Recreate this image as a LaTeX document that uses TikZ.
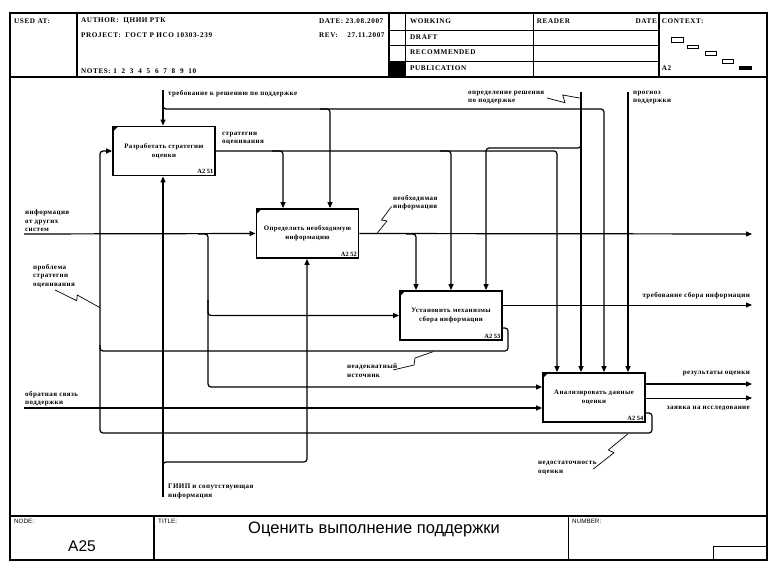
\documentclass[tikz,border=0pt]{standalone}
\usepackage{fontspec}
\setmainfont{Liberation Serif}
\newfontfamily\sansf{Liberation Sans}
\newfontfamily\lblf[LetterSpace=6]{Liberation Serif}
\newfontfamily\hdrf[LetterSpace=8]{Liberation Serif}
\usetikzlibrary{arrows.meta}
\begin{document}
\begin{tikzpicture}[x=1pt,y=-1pt,
  frame/.style={line width=1.3pt},
  thinline/.style={line width=0.8pt},
  conn/.style={line width=1.2pt, rounded corners=3pt},
  thinconn/.style={line width=0.8pt},
  arr/.style={-{Triangle[length=6pt,width=5pt]}},
  squig/.style={line width=0.7pt},
  lbl/.style={font=\lblf\fontsize{7}{8.4}\selectfont\bfseries, inner sep=0pt, align=left},
  lblr/.style={font=\lblf\fontsize{7}{8.4}\selectfont\bfseries, inner sep=0pt, align=right},
  hdr/.style={font=\hdrf\fontsize{7.2}{8}\selectfont\bfseries, inner sep=0pt, anchor=west},
  ftr/.style={font=\sansf\fontsize{6.3}{7}\selectfont, inner sep=0pt, anchor=west},
  boxst/.style={draw, line width=1.8pt, minimum width=102pt, minimum height=49pt, inner sep=0pt, align=center, font=\lblf\fontsize{6.8}{9.2}\selectfont\bfseries},
  numst/.style={font=\fontsize{6.4}{7}\selectfont\bfseries, inner sep=0pt, anchor=south east}
]
\useasboundingbox (0,0) rectangle (783,572);
% ---------- frame ----------
\draw[frame] (10,13) rectangle (767,560);
\draw[frame] (10,77) -- (767,77);
\draw[frame] (10,516) -- (767,516);
\draw[frame] (77,13) -- (77,77);
\draw[frame] (389,13) -- (389,77);
\draw[thinline] (405,13) -- (405,77);
\draw[thinline] (533,13) -- (533,77);
\draw[frame] (659,13) -- (659,77);
\draw[thinline] (389,30) -- (659,30);
\draw[thinline] (389,45.7) -- (659,45.7);
\draw[thinline] (389,61.7) -- (659,61.7);
\fill (389,61.7) rectangle (405,77);
\draw[thinline] (671,37) rectangle (683,42);
\draw[thinline] (687,45) rectangle (698,48.5);
\draw[thinline] (705,51) rectangle (716,55);
\draw[thinline] (722,59) rectangle (733,63);
\fill (739,66) rectangle (752,70);
\draw[frame] (154,516) -- (154,560);
\draw[frame] (568.7,516) -- (568.7,560);
\draw[thinline] (713.7,560) |- (767,546.7);
% header texts
\node[hdr] (usedat) at (14,20.7) {USED AT:};
\node[hdr] (author) at (81,20.7) {AUTHOR:\ \ ЦНИИ РТК};
\node[hdr] (project) at (81,35) {PROJECT:\ \ ГОСТ Р ИСО 10303-239};
\node[hdr] (notes) at (81,70.7) {NOTES:\ 1\ \ 2\ \ 3\ \ 4\ \ 5\ \ 6\ \ 7\ \ 8\ \ 9\ \ 10};
\node[hdr] (date) at (319,20.7) {DATE:\ 23.08.2007};
\node[hdr] (rev) at (319,35) {REV:\ \ \ \ 27.11.2007};
\node[hdr] (working) at (410,20.7) {WORKING};
\node[hdr] (draft) at (410,36.7) {DRAFT};
\node[hdr] (recom) at (410,52.3) {RECOMMENDED};
\node[hdr] (publ) at (410,68.3) {PUBLICATION};
\node[hdr] (reader) at (536.7,20.7) {READER};
\node[hdr, anchor=east] (date2) at (657,20.7) {DATE};
\node[hdr] (context) at (661.7,20.7) {CONTEXT:};
\node[hdr] (ctxa) at (661.7,68.3) {A2};
% footer texts
\node[ftr] (nodel) at (14,521) {NODE:};
\node[ftr] (titlel) at (158,521) {TITLE:};
\node[ftr] (numl) at (572,521) {NUMBER:};
\node[font=\sansf\fontsize{15.5}{16}\selectfont, inner sep=0pt, anchor=base] (nodeval) at (82,551) {A25};
\node[font=\sansf\fontsize{16.5}{17}\selectfont, inner sep=0pt, anchor=base] (titleval) at (374,533) {Оценить выполнение поддержки};
% ---------- boxes ----------
\node[boxst] (b1) at (164,151) {Разработать стратегию\\оценки};
\node[boxst] (b2) at (307.5,233.5) {Определить необходимую\\информацию};
\node[boxst] (b3) at (451,315.5) {Установить механизмы\\сбора информации};
\node[boxst] (b4) at (594,397.5) {Анализировать данные\\оценки};
\foreach \b/\n in {b1/A2 51, b2/A2 52, b3/A2 53, b4/A2 54}{
  \node[numst] at ([shift={(-2.5,-2.5)}]\b.south east) {\n};
  \fill ([shift={(1,1)}]\b.north west) -- ++(5,0) -- ++(-5,5) -- cycle;
}
% ---------- free ends ----------
\coordinate (treb) at (163,90);
\coordinate (opr) at (581,92);
\coordinate (prog) at (628,92);
\coordinate (infin) at (24,234);
\coordinate (obrin) at (24,408);
\coordinate (giip) at (163,497);
\coordinate (outnec) at (752,234);
\coordinate (outsb) at (752,305);
\coordinate (outres) at (752,384);
\coordinate (outzav) at (752,398);
% ---------- controls ----------
\draw[conn, arr] (treb) -- (163,0 |- b1.north);
\draw[conn, arr] (163,100) |- (604,109) -- (604,0 |- b4.north);
\draw[conn, arr] (320,109) -| (330,0 |- b2.north);
\draw[conn, arr] (b1.east) -| (557,0 |- b4.north);
\draw[conn, arr] (272,151) -| (283,0 |- b2.north);
\draw[conn, arr] (440,151) -| (451,0 |- b3.north);
\draw[conn, arr] (opr) -- (581,0 |- b4.north);
\draw[conn, arr] (581,140) |- (486,148) -- (486,0 |- b3.north);
\draw[conn, arr] (prog) -- (628,0 |- b4.north);
% ---------- box 2 output ----------
\draw[conn, arr] (b2.east) -- (outnec);
\draw[conn, arr] (406,234) -| (416,0 |- b3.north);
% ---------- inputs ----------
\draw[conn, arr] (infin) -- (b2.west);
\draw[conn, arr] (198,234) -| (208,387) -- (b4.west |- 0,387);
\draw[conn, arr] (208,300) |- (b3.west);
\draw[conn, arr] (obrin) -- (b4.west |- 0,408);
% ---------- feedback ----------
\draw[conn, arr] (b3.east |- 0,328) -| (508,351) -| (100,151) -- (b1.west);
\draw[conn] (b4.east |- 0,413) -| (652,433) -| (100,345);
% ---------- mechanisms ----------
\draw[conn, arr] (giip) -- (163,0 |- b1.south);
\draw[conn, arr] (163,472) |- (307,462) -- (307,0 |- b2.south);
% ---------- outputs ----------
\draw[thinconn, arr] (b3.east |- 0,305) -- (outsb);
\draw[conn, arr] (b4.east |- 0,384) -- (outres);
\draw[thinconn, arr] (b4.east |- 0,398) -- (outzav);
% ---------- squiggles ----------
\draw[squig] (376.5,234) -- (387,221) -- (381.5,220) -- (391.5,206.5);
\draw[squig] (55,290) -- (76.7,300.7) -- (77.3,295) -- (100,307.7);
\draw[squig] (547,98) -- (565,102.7) -- (562.7,95) -- (581,98.3);
\draw[squig] (433,351.7) -- (415,358) -- (414,365) -- (393,370);
\draw[squig] (627.7,434) -- (608.3,450) -- (614,452.7) -- (593.3,469);
% ---------- labels ----------
\node[lbl, anchor=west] (l1) at (168,93.3) {требование к решению по поддержке};
\node[lbl, anchor=west] (l2) at (222,138.3) {стратегии\\оценивания};
\node[lbl, anchor=west] (l3) at (25,220.7) {информация\\от других\\систем};
\node[lbl, anchor=west] (l4) at (393,202.5) {необходимая\\информация};
\node[lbl, anchor=west] (l5) at (468,97.5) {определение решения\\по поддержке};
\node[lbl, anchor=west] (l6) at (633,97.5) {прогноз\\поддержки};
\node[lbl, anchor=west] (l7) at (33,276) {проблема\\стратегии\\оценивания};
\node[lblr, anchor=east] (l8) at (750,296) {требование сбора информации};
\node[lbl, anchor=west] (l9) at (347,370.5) {неадекватный\\источник};
\node[lblr, anchor=east] (l10) at (750,374) {результаты оценки};
\node[lblr, anchor=east] (l11) at (750,408) {заявка на исследование};
\node[lbl, anchor=west] (l12) at (25,399) {обратная связь\\поддержки};
\node[lbl, anchor=west] (l13) at (538,468) {недостаточность\\оценки};
\node[lbl, anchor=west] (l14) at (168,491.5) {ГИИП и сопутствующая\\информация};
\end{tikzpicture}
\end{document}
